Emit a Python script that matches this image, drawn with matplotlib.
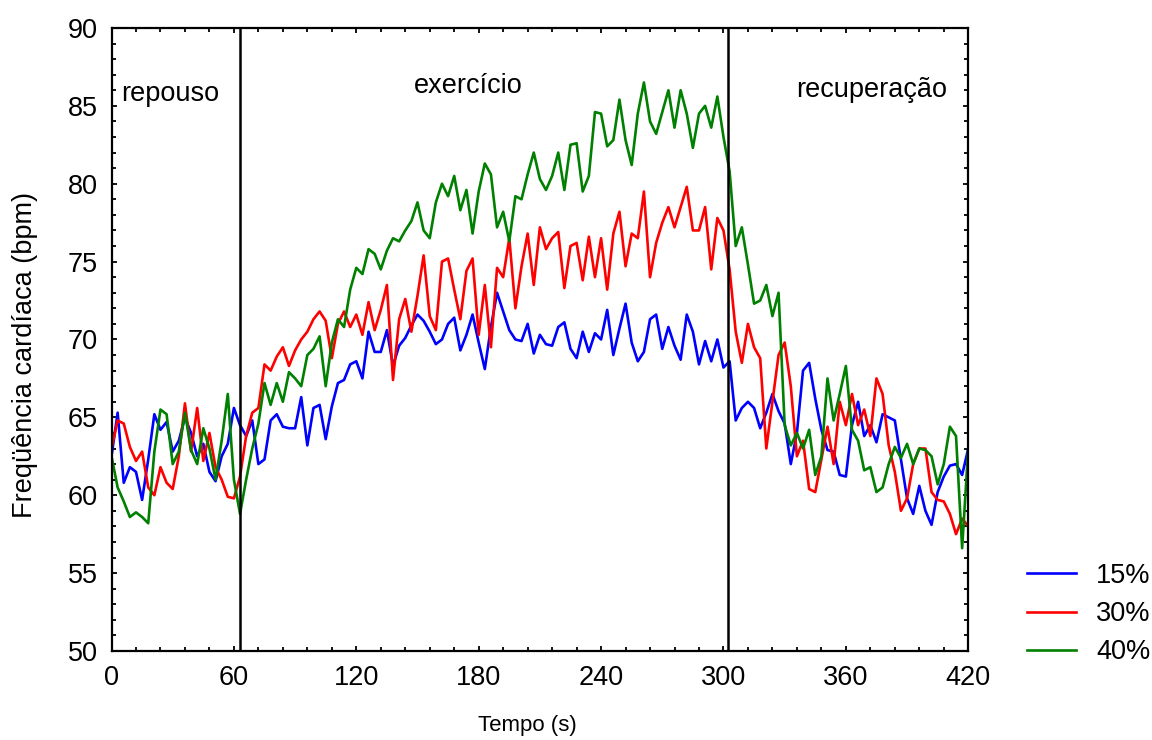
import numpy as np
import matplotlib
matplotlib.use("Agg")
import matplotlib.pyplot as plt

plt.rcParams['font.family'] = ['Liberation Sans', 'DejaVu Sans']

# sampling grid (s), one reading every 3 s
tempo = np.arange(0, 421, 3)

# heart rate readings (bpm)
hr_15 = [62.5, 65.3, 60.8, 61.8, 61.5, 59.7, 62.3, 65.2, 64.2, 64.7, 62.8, 63.5, 65.0, 64.0, 62.5, 63.3, 61.5, 60.9, 62.5, 63.3, 65.6, 64.5,
         63.8, 64.8, 62.0, 62.3, 64.8, 65.2, 64.4, 64.3, 64.3, 66.3, 63.2, 65.6, 65.8, 63.6, 65.7, 67.2, 67.4, 68.4, 68.6, 67.5, 70.5, 69.2, 69.2, 70.6, 68.3, 69.6,
         70.1, 70.9, 71.6, 71.2, 70.5, 69.7, 70.0, 71.0, 71.4, 69.3, 70.3, 71.6, 69.8, 68.1, 70.8, 73.0, 71.8, 70.6, 70.0, 69.9, 71.0, 69.1, 70.3, 69.7,
         69.6, 70.8, 71.1, 69.4, 68.8, 70.5, 69.2, 70.4, 70.0, 71.9, 69.0, 70.7, 72.3, 69.8, 68.6, 69.2, 71.3, 71.6, 69.4, 70.8, 69.6, 68.7, 71.6, 70.5,
         68.4, 69.9, 68.6, 70.0, 68.2, 68.6, 64.8, 65.6, 66.0, 65.6, 64.3, 65.3, 66.5, 65.4, 64.6, 62.0, 64.0, 68.0, 68.5, 66.2, 64.2, 62.9, 62.8,
         61.3, 61.2, 64.5, 66.0, 63.8, 64.5, 63.4, 65.2, 65.0, 64.8, 62.3, 59.8, 58.8, 60.6, 59.0, 58.1, 60.2, 61.2, 61.9, 62.0, 61.3, 63.0]

hr_30 = [63.0, 64.8, 64.6, 63.1, 62.2, 62.8, 60.5, 60.0, 61.8, 60.8, 60.4, 62.5, 65.9, 62.8, 65.6, 62.2, 64.0, 61.8, 61.0, 59.9, 59.8, 61.2,
         63.8, 65.3, 65.6, 68.4, 68.0, 68.9, 69.5, 68.3, 69.3, 70.0, 70.5, 71.3, 71.8, 71.2, 68.8, 71.0, 71.8, 70.8, 71.6, 70.3, 72.4, 70.6, 71.9, 73.5, 67.4, 71.3,
         72.6, 70.5, 72.8, 75.4, 71.5, 70.6, 75.0, 75.2, 73.2, 71.3, 74.4, 75.2, 70.3, 73.5, 69.5, 74.6, 74.0, 76.5, 72.0, 74.7, 76.8, 73.5, 77.2, 75.8,
         76.5, 76.9, 73.3, 76.0, 76.2, 73.8, 76.6, 74.0, 76.5, 73.2, 76.8, 78.2, 74.7, 76.8, 76.5, 79.5, 74.0, 76.2, 77.5, 78.5, 77.2, 78.5, 79.8, 77.0,
         77.0, 78.5, 74.5, 77.8, 77.0, 74.5, 70.5, 68.5, 71.0, 69.5, 68.8, 63.0, 66.0, 69.0, 69.8, 67.0, 62.5, 63.5, 60.4, 60.2, 62.3, 64.4, 62.0,
         66.0, 64.5, 66.5, 64.5, 65.5, 63.8, 67.5, 66.5, 63.2, 61.5, 59.0, 59.8, 62.0, 63.0, 63.0, 60.2, 59.7, 59.6, 58.8, 57.5, 58.5, 58.0]

hr_40 = [62.5, 60.5, 59.6, 58.6, 58.9, 58.6, 58.2, 62.8, 65.5, 65.2, 62.0, 62.8, 65.3, 62.9, 62.0, 64.3, 63.0, 61.0, 63.5, 66.5, 61.0, 58.8,
         61.0, 63.0, 64.6, 67.2, 65.8, 67.2, 66.0, 67.9, 67.5, 67.0, 69.0, 69.4, 70.2, 67.0, 69.8, 71.3, 70.8, 73.2, 74.6, 74.2, 75.8, 75.5, 74.5, 75.7, 76.5, 76.3,
         77.0, 77.6, 78.8, 77.0, 76.5, 78.8, 80.0, 79.2, 80.5, 78.3, 79.6, 76.8, 79.5, 81.3, 80.6, 77.2, 78.2, 76.3, 79.2, 79.0, 80.6, 82.0, 80.3, 79.6,
         80.5, 82.0, 79.6, 82.5, 82.6, 79.5, 80.5, 84.6, 84.5, 82.4, 82.8, 85.4, 82.8, 81.2, 84.5, 86.5, 84.0, 83.2, 84.6, 86.0, 83.6, 86.0, 84.5, 82.3,
         84.5, 85.0, 83.6, 85.6, 83.0, 80.8, 76.0, 77.2, 74.8, 72.3, 72.5, 73.5, 71.5, 73.0, 64.5, 63.2, 64.0, 63.0, 64.2, 61.3, 62.5, 67.5, 64.8,
         66.5, 68.3, 64.2, 63.5, 61.6, 61.8, 60.2, 60.5, 62.0, 63.1, 62.4, 63.3, 62.0, 63.0, 62.9, 62.5, 60.7, 62.0, 64.4, 63.8, 56.6, 63.0]

series_labels = ['15%', '30%', '40%']
series_colors = ['#0000ff', '#ff0000', '#008000']

# phase boundaries (s) and phase names
phase_bounds = [63, 302]
phase_names = ['repouso', 'exercício', 'recuperação']
phase_text_x = [4.5, 174.8, 372.7]
phase_text_y = [85.3, 85.8, 85.6]
phase_text_ha = ['left', 'center', 'center']

fig = plt.figure(figsize=(11.52, 7.4), dpi=100)
ax = fig.add_axes([0.0968, 0.1203, 0.7437, 0.8419])

for vals, lab, col in zip([hr_15, hr_30, hr_40], series_labels, series_colors):
    ax.plot(tempo, vals, color=col, lw=1.9, label=lab)

for b in phase_bounds:
    ax.axvline(b, color='black', lw=1.8)

for name, tx, ty, ha in zip(phase_names, phase_text_x, phase_text_y, phase_text_ha):
    ax.text(tx, ty, name, ha=ha, va='baseline', fontsize=19.5)

ax.set_xlim(0, 420)
ax.set_ylim(50, 90)
ax.set_xticks(np.arange(0, 421, 60))
ax.set_xticks(np.arange(0, 421, 12), minor=True)
ax.set_yticks(np.arange(50, 91, 5))
ax.set_yticks(np.arange(50, 91, 1), minor=True)
ax.tick_params(which='both', direction='in', top=True, right=True, width=1.3,
               labelsize=19.5)
ax.tick_params(which='major', length=3.6, pad=10)
ax.tick_params(which='minor', length=2.8)
for sp in ax.spines.values():
    sp.set_linewidth(1.6)

fig.text(25 / 1152, 1 - 355 / 740, 'Freqüência cardíaca (bpm)', rotation=90,
         ha='center', va='center', fontsize=19.5)
fig.text(527 / 1152, 1 - 725 / 740, 'Tempo (s)', ha='center', va='center',
         fontsize=16)

ax.legend(loc='center left', bbox_to_anchor=(1016 / 1152, 1 - 614 / 740),
          bbox_transform=fig.transFigure, frameon=False, fontsize=19.5,
          handlelength=1.8, handletextpad=0.75, labelspacing=0.45,
          borderaxespad=0)

fig.savefig('out.png', dpi=100)
